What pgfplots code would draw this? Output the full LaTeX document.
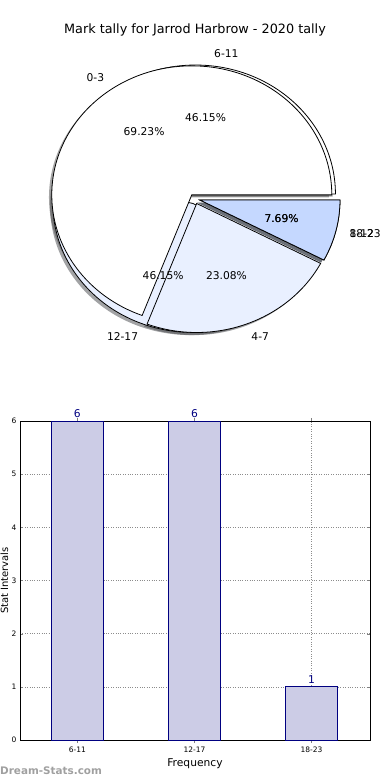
\documentclass[border=0pt]{standalone}
\usepackage{fontspec}
\setmainfont{DejaVu Sans}
\usepackage{pgfplots}
\usepackage{pgfplotstable}
\pgfplotsset{compat=1.18}

\definecolor{pieW}{HTML}{FFFFFF}
\definecolor{pieL}{HTML}{E9F0FF}
\definecolor{pieB}{HTML}{C5D8FF}
\definecolor{barfill}{HTML}{CCCCE6}
\definecolor{navy}{HTML}{000080}
\definecolor{wm}{HTML}{A0A0A0}

% pie data (counts)
\pgfplotstableread{
label count
0-3 9
4-7 3
8-12 1
}\pieAtab
\pgfplotstableread{
label count
6-11 6
12-17 6
18-23 1
}\pieBtab
% bar data
\pgfplotstableread{
x y
0 6
1 6
2 1
}\bartab

\pgfplotstablegetelem{0}{count}\of\pieAtab \edef\Aone{\pgfplotsretval}
\pgfplotstablegetelem{1}{count}\of\pieAtab \edef\Atwo{\pgfplotsretval}
\pgfplotstablegetelem{2}{count}\of\pieAtab \edef\Athree{\pgfplotsretval}
\pgfplotstablegetelem{0}{count}\of\pieBtab \edef\Bone{\pgfplotsretval}
\pgfplotstablegetelem{1}{count}\of\pieBtab \edef\Btwo{\pgfplotsretval}
\pgfplotstablegetelem{2}{count}\of\pieBtab \edef\Bthree{\pgfplotsretval}
\pgfmathsetmacro\Aang{360*\Aone/(\Aone+\Atwo+\Athree)}
\pgfmathsetmacro\Aangb{360*(\Aone+\Atwo)/(\Aone+\Atwo+\Athree)}
\pgfmathsetmacro\Bang{360*\Bone/(\Bone+\Btwo+\Bthree)}
\pgfmathsetmacro\Bangb{360*(\Bone+\Btwo)/(\Bone+\Btwo+\Bthree)}

\newcommand\pieexp{0.038}
\newcommand\RX{140}
\newcommand\RY{129}
\newcommand\drawshadow[3]{%
  \pgfmathsetmacro\wm{(#1+#2)/2}%
  \pgfmathsetmacro\sx{\pieexp*\RX*cos(\wm)-2.8}%
  \pgfmathsetmacro\sy{\pieexp*\RY*sin(\wm)-2.6}%
  \edef\tmp{\noexpand\fill[fill=#3!30!black, fill opacity=0.5] (axis cs:\sx,\sy) -- ++(#1:\RX bp and \RY bp) arc[start angle=#1, end angle=#2, x radius=\RX bp, y radius=\RY bp] -- cycle;}\tmp}
\newcommand\drawwedge[3]{%
  \pgfmathsetmacro\wm{(#1+#2)/2}%
  \pgfmathsetmacro\wx{\pieexp*\RX*cos(\wm)}%
  \pgfmathsetmacro\wy{\pieexp*\RY*sin(\wm)}%
  \edef\tmp{\noexpand\filldraw[fill=#3, draw=black, line width=0.8bp, line join=miter] (axis cs:\wx,\wy) -- ++(#1:\RX bp and \RY bp) arc[start angle=#1, end angle=#2, x radius=\RX bp, y radius=\RY bp] -- cycle;}\tmp}
\newcommand\wedgelabels[5]{% a1 a2 label anchor pct
  \pgfmathsetmacro\wm{(#1+#2)/2}%
  \pgfmathsetmacro\lx{(\pieexp+1.1)*\RX*cos(\wm)}%
  \pgfmathsetmacro\ly{(\pieexp+1.1)*\RY*sin(\wm)}%
  \pgfmathsetmacro\px{(\pieexp+0.6)*\RX*cos(\wm)}%
  \pgfmathsetmacro\py{(\pieexp+0.6)*\RY*sin(\wm)}%
  \edef\tmp{\noexpand\node[anchor=#4, inner sep=0pt, font=\noexpand\piefont] at (axis cs:\lx,\ly) {#3};
  \noexpand\node[inner sep=0pt, font=\noexpand\piefont] at (axis cs:\px,\py) {#5};}\tmp}
\newcommand\piefont{\fontsize{10.7bp}{12bp}\selectfont}

\begin{document}
\begin{tikzpicture}
\path[use as bounding box] (0,0) rectangle (390bp,780bp);

% ---------- pie ----------
\begin{axis}[at={(4.8bp,406.1bp)}, anchor=south west,
  x=1bp, y=1bp, xmin=-190, xmax=190, ymin=-175, ymax=175,
  hide axis, clip=false]
\addplot[draw=none] coordinates {(0,0)};
\drawshadow{0}{\Bang}{pieW}
\drawshadow{\Bang}{\Bangb}{pieL}
\drawshadow{\Bangb}{360}{pieB}
\drawshadow{0}{\Aang}{pieW}
\drawshadow{\Aang}{\Aangb}{pieL}
\drawshadow{\Aangb}{360}{pieB}
\drawwedge{0}{\Bang}{pieW}
\drawwedge{\Bang}{\Bangb}{pieL}
\drawwedge{\Bangb}{360}{pieB}
\drawwedge{0}{\Aang}{pieW}
\drawwedge{\Aang}{\Aangb}{pieL}
\drawwedge{\Aangb}{360}{pieB}
\wedgelabels{0}{\Bang}{6-11}{west}{46.15\%}
\wedgelabels{\Bang}{\Bangb}{12-17}{east}{46.15\%}
\wedgelabels{\Bangb}{360}{18-23}{west}{7.69\%}
\wedgelabels{0}{\Aang}{0-3}{east}{69.23\%}
\wedgelabels{\Aang}{\Aangb}{4-7}{west}{23.08\%}
\wedgelabels{\Aangb}{360}{8-12}{west}{7.69\%}
\node[font=\fontsize{12.8bp}{15bp}\selectfont] at (axis cs:0.2,168.9) {Mark tally for Jarrod Harbrow - 2020 tally};
\end{axis}

% ---------- bars ----------
\begin{axis}[at={(20bp,40bp)}, anchor=south west, scale only axis,
  width=350bp, height=319bp,
  xmin=-0.49, xmax=2.5, ymin=0, ymax=6,
  xtick={0,1,2}, xticklabels={6-11,12-17,18-23},
  ytick={0,1,2,3,4,5,6},
  grid=major, grid style={dotted, black!45, line width=0.6bp},
  tick label style={font=\fontsize{7.5bp}{9bp}\selectfont},
  /pgf/number format/assume math mode=true,
  xlabel={Frequency}, ylabel={Stat Intervals},
  label style={font=\fontsize{10.7bp}{12bp}\selectfont},
  every axis y label/.style={at={(rel axis cs:0,0.5)}, rotate=90, anchor=center, yshift=15.5bp},
  tick align=inside, tick pos=both, major tick length=3bp,
  axis line style={line width=0.8bp},
  ybar, bar width=0.44, clip=false,
  nodes near coords,
  nodes near coords style={text=navy, font=\fontsize{10.7bp}{12bp}\selectfont},
]
\addplot[fill=barfill, draw=navy, line width=0.8bp] table[x=x, y=y] {\bartab};
\end{axis}

\node[anchor=west, inner sep=0pt, text=wm, font=\bfseries\fontsize{10.4bp}{12bp}\selectfont] at (0bp,9bp) {Dream-Stats.com};
\end{tikzpicture}
\end{document}
